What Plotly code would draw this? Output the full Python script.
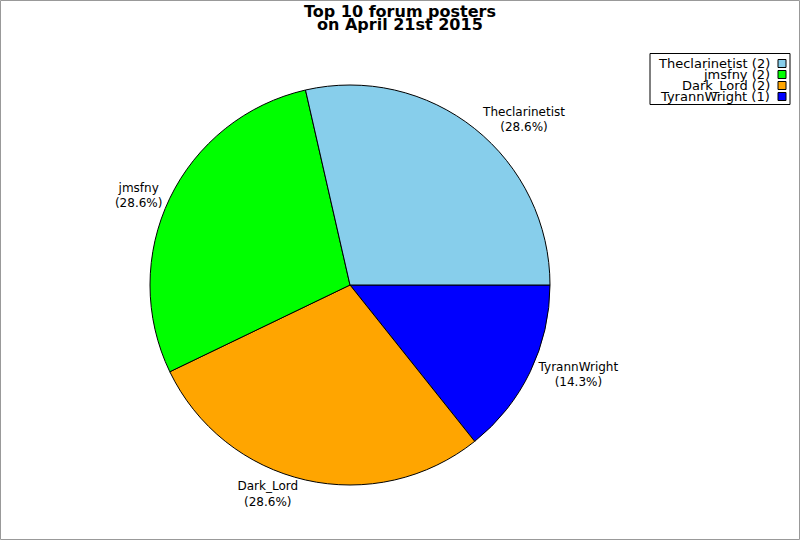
import plotly.graph_objects as go

# data
posters = ['Theclarinetist', 'jmsfny', 'Dark_Lord', 'TyrannWright']
posts = [2, 2, 2, 1]
colors = ['#87CEEB', '#00FF00', '#FFA500', '#0000FF']
title_lines = ['Top 10 forum posters', 'on April 21st 2015']

W, H = 800, 540

fig = go.Figure()
# slices run counterclockwise from 3 o'clock in the reference,
# so feed them reversed and draw clockwise from 3 o'clock
fig.add_trace(go.Pie(
    labels=posters[::-1],
    values=posts[::-1],
    sort=False,
    direction='clockwise',
    rotation=90,
    marker=dict(colors=colors[::-1], line=dict(color='black', width=1)),
    texttemplate='%{label}<br>(%{percent:.1%})',
    textposition='outside',
    outsidetextfont=dict(family='DejaVu Sans', size=12, color='black'),
    hoverinfo='label+value+percent',
    showlegend=False,
    domain=dict(x=[150 / W, 550 / W], y=[(H - 485) / H, (H - 85) / H]),
))

# outer grey frame and legend box
shapes = [
    dict(type='rect', xref='paper', yref='paper', x0=0.5 / W, x1=1 - 0.5 / W,
         y0=0.5 / H, y1=1 - 0.5 / H, line=dict(color='#999999', width=1)),
    dict(type='rect', xref='paper', yref='paper', x0=650 / W, x1=790 / W,
         y0=1 - 104.5 / H, y1=1 - 53.5 / H, line=dict(color='black', width=1)),
]
annotations = []

# title in two tight lines
for i, line in enumerate(title_lines):
    annotations.append(dict(
        x=0.5, y=1 - (11 + i * 14) / H, xref='paper', yref='paper',
        xanchor='center', yanchor='middle', showarrow=False,
        text=f'<b>{line}</b>',
        font=dict(family='DejaVu Sans', size=16, color='black'),
    ))

# custom legend: text on the left, colour box on the right
for i, (name, n, c) in enumerate(zip(posters, posts, colors)):
    yc = 63.5 + i * 11
    annotations.append(dict(
        x=772 / W, y=1 - yc / H, xref='paper', yref='paper',
        xanchor='right', yanchor='middle', showarrow=False,
        text=f'{name} ({n})',
        font=dict(family='DejaVu Sans', size=13, color='black'),
    ))
    shapes.append(dict(
        type='rect', xref='paper', yref='paper',
        x0=778 / W, x1=786 / W, y0=1 - (yc + 4) / H, y1=1 - (yc - 4) / H,
        fillcolor=c, line=dict(color='black', width=1),
    ))

fig.update_layout(
    width=W, height=H,
    margin=dict(l=0, r=0, t=0, b=0),
    paper_bgcolor='white',
    plot_bgcolor='white',
    shapes=shapes,
    annotations=annotations,
)

fig.write_html(
    'out.html',
    config={'displayModeBar': False},
    post_script="document.body.style.margin='0px';document.body.style.overflow='hidden';window.scrollTo(0,0);",
)
